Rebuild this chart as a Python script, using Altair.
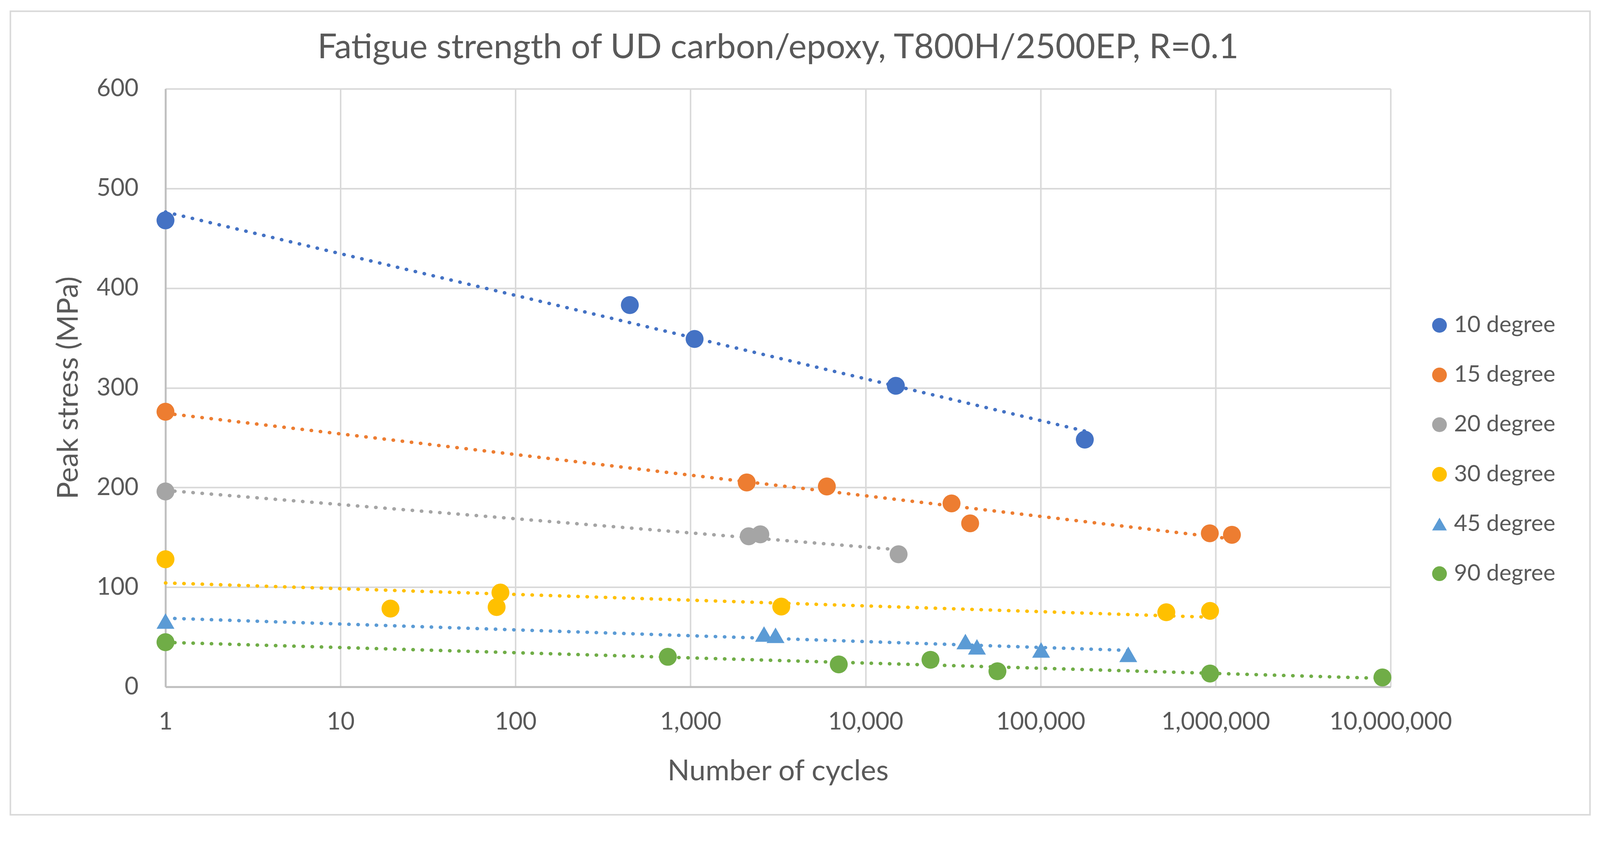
import altair as alt
import pandas as pd

# ---- data ----
series_names = ["10 degree", "15 degree", "20 degree", "30 degree", "45 degree", "90 degree"]
series_colors = ["#4472C4", "#ED7D31", "#A5A5A5", "#FFC000", "#5B9BD5", "#70AD47"]
series_shapes = ["circle", "circle", "circle", "circle", "triangle-up", "circle"]

cycles_10 = [1, 450, 1055, 14900, 179000]
stress_10 = [468, 383, 349, 302, 248]

cycles_15 = [1, 2095, 6010, 31000, 39600, 927000, 1240000]
stress_15 = [276, 205, 201, 184, 164, 154, 152.5]

cycles_20 = [1, 2150, 2505, 15450]
stress_20 = [196, 151, 153, 133]

cycles_30 = [1, 19.3, 78, 82, 3300, 523000, 930000]
stress_30 = [128, 78.5, 80, 94.6, 80.5, 74.8, 76.2]

cycles_45 = [1, 2630, 3060, 37200, 43300, 100700, 317000]
stress_45 = [66, 53, 51.7, 45.4, 40.1, 37, 32.6]

cycles_90 = [1, 742, 7030, 23500, 56700, 930000, 8980000]
stress_90 = [44.8, 30.1, 22.5, 27.1, 15.6, 13.3, 9.4]

x_ticks = [1, 10, 100, 1000, 10000, 100000, 1000000, 10000000]
y_ticks = [0, 100, 200, 300, 400, 500, 600]

all_cycles = [cycles_10, cycles_15, cycles_20, cycles_30, cycles_45, cycles_90]
all_stress = [stress_10, stress_15, stress_20, stress_30, stress_45, stress_90]

rows = []
for name, ns, ss in zip(series_names, all_cycles, all_stress):
    for n, s in zip(ns, ss):
        rows.append({"series": name, "N": n, "stress": s})
df = pd.DataFrame(rows)

FONT = "Lato"
TXT = "#595959"
W, H = 3207, 1565
PAD_L, PAD_T = 425, 200
PAD_R = 4172 - PAD_L - W
PAD_B = 2144 - PAD_T - H

x_enc = alt.X(
    "N:Q",
    scale=alt.Scale(type="log", domain=[1, 10000000], nice=False),
    axis=alt.Axis(
        values=x_ticks, format=",", title="Number of cycles",
        titleX=1603, titleY=244, titleBaseline="alphabetic", titleAlign="center",
        labelPadding=92, labelBaseline="middle", labelFlush=False, labelOverlap=False,
    ),
)
y_enc = alt.Y(
    "stress:Q",
    scale=alt.Scale(domain=[0, 600], nice=False),
    axis=alt.Axis(
        values=y_ticks, title="Peak stress (MPa)",
        titleX=-253, titleY=782, titleAngle=-90, titleAlign="center", titleBaseline="middle",
        labelPadding=71, labelFlush=False, labelOverlap=False,
    ),
)
legend_kw = dict(
    title=None, orient="none", legendX=3305, legendY=589,
    symbolSize=1490, labelFontSize=60, labelFont=FONT, labelColor=TXT,
    labelOffset=8, rowPadding=70, padding=0, symbolStrokeWidth=0, labelLimit=0,
)
color_enc = alt.Color(
    "series:N",
    scale=alt.Scale(domain=series_names, range=series_colors),
    legend=alt.Legend(**legend_kw),
)
shape_enc = alt.Shape(
    "series:N",
    scale=alt.Scale(domain=series_names, range=series_shapes),
    legend=alt.Legend(**legend_kw),
)

border = alt.Chart(alt.Data(values=[{}])).mark_rect(
    fill="white", fillOpacity=0, stroke="#D9D9D9", strokeWidth=4
).encode(
    x=alt.value(-406), x2=alt.value(3729), y=alt.value(-203), y2=alt.value(1900)
)

trend = alt.Chart(df).transform_regression(
    "N", "stress", groupby=["series"], method="log"
).mark_line(strokeDash=[1, 23], strokeWidth=9, strokeCap="round").encode(
    x=x_enc, y=y_enc,
    color=alt.Color("series:N", scale=alt.Scale(domain=series_names, range=series_colors), legend=None),
    detail="series:N",
)

points = alt.Chart(df).mark_point(filled=True, opacity=1, size=2200, strokeWidth=0).encode(
    x=x_enc, y=y_enc, color=color_enc, shape=shape_enc
)

chart = alt.layer(border, points, trend).properties(
    width=W, height=H,
    title=alt.TitleParams(
        "Fatigue strength of UD carbon/epoxy, T800H/2500EP, R=0.1",
        fontSize=90, font=FONT, color=TXT, fontWeight="normal", anchor="middle",
        offset=40, dy=184,
    ),
    padding={"left": PAD_L, "top": PAD_T, "right": PAD_R, "bottom": PAD_B},
    autosize=alt.AutoSizeParams(type="none"),
).configure(
    background="white",
).configure_view(
    stroke=None,
).configure_axis(
    labelFont=FONT, labelFontSize=63, labelColor=TXT, labelLimit=0,
    titleFont=FONT, titleFontSize=76, titleColor=TXT, titleFontWeight="normal",
    gridColor="#D9D9D9", gridWidth=4, grid=True,
    domainColor="#BFBFBF", domainWidth=5,
    ticks=False, tickSize=0,
)

chart.save("out.html", embed_options={"renderer": "svg", "actions": False})
